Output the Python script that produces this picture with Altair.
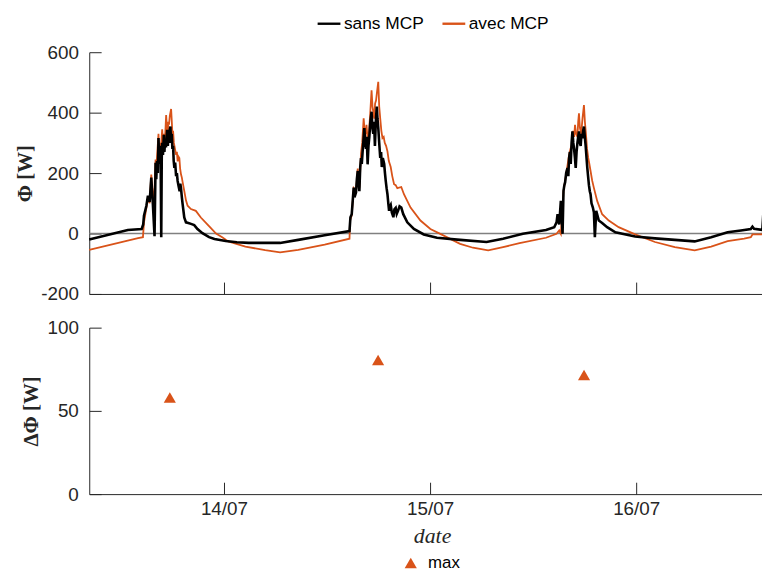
import altair as alt
import pandas as pd

BASE = pd.Timestamp("2019-07-13 00:00:00")

# (hours since 13/07 00:00, flux [W])
sans_pts = [
    (8.31, -20), (12.81, 12), (14.42, 15), (14.6, 30), (14.69, 59), (14.97, 92), (15.15, 125), (15.35, 105),
    (15.54, 185), (15.73, 95), (15.92, -9), (16.04, 234), (16.12, 180), (16.21, 240), (16.3, 200),
    (16.38, 316), (16.47, 230), (16.56, 290), (16.63, 250), (16.70, -12), (16.76, 250), (16.81, 300),
    (16.9, 260), (17.0, 327), (17.07, 270), (17.15, 310), (17.25, 285), (17.39, 343), (17.47, 290),
    (17.54, 330), (17.62, 300), (17.7, 345), (17.77, 354), (17.85, 300), (17.92, 330), (18.0, 280),
    (18.08, 290), (18.15, 240), (18.23, 217), (18.32, 235), (18.43, 190), (18.52, 200), (18.61, 174),
    (18.7, 160), (18.84, 140), (18.92, 165), (19.0, 150), (19.1, 120), (19.19, 97), (19.38, 53),
    (19.58, 37), (19.85, 35), (20.16, 32), (20.54, 28), (20.92, 15), (21.5, 1), (22.27, -12), (22.9, -18),
    (24.2, -25), (25.5, -29), (26.88, -31), (28.5, -31), (30.54, -31), (32.65, -21), (35.73, -6),
    (38.62, 8), (38.73, 54), (38.88, 64), (39.0, 110), (39.11, 152), (39.2, 120), (39.38, 136),
    (39.48, 180), (39.58, 207), (39.68, 170), (39.77, 140), (39.87, 220), (39.96, 250), (40.05, 230),
    (40.15, 272), (40.25, 310), (40.35, 349), (40.45, 300), (40.54, 280), (40.63, 320), (40.73, 229),
    (40.83, 290), (40.93, 320), (41.05, 370), (41.19, 403), (41.29, 350), (41.39, 330), (41.48, 370),
    (41.58, 290), (41.7, 380), (41.8, 420), (41.88, 380), (41.97, 350), (42.08, 300), (42.2, 250),
    (42.3, 270), (42.38, 220), (42.5, 250), (42.66, 230), (42.75, 200), (42.84, 174), (42.94, 150),
    (43.04, 130), (43.14, 100), (43.23, 75), (43.33, 90), (43.42, 95), (43.55, 70), (43.73, 54),
    (43.85, 80), (44.0, 85), (44.12, 65), (44.27, 75), (44.45, 90), (44.65, 86), (44.88, 64), (45.35, 37),
    (46.12, 15), (47.27, -3), (48.81, -14), (51.5, -21), (54.58, -28), (56.5, -17), (58.81, -1),
    (61.5, 12), (62.46, 21), (62.73, 37), (62.85, 64), (63.04, 30), (63.23, 108), (63.43, -1),
    (63.54, 141), (63.64, 160), (63.73, 170), (63.85, 200), (64.0, 217), (64.1, 190), (64.19, 250),
    (64.28, 270), (64.38, 230), (64.48, 300), (64.58, 338), (64.68, 300), (64.77, 280), (64.87, 250),
    (64.96, 217), (65.06, 270), (65.16, 300), (65.25, 320), (65.34, 338), (65.44, 300), (65.54, 290),
    (65.63, 330), (65.73, 315), (65.83, 340), (65.92, 354), (66.02, 320), (66.12, 290), (66.22, 250),
    (66.31, 217), (66.4, 190), (66.5, 160), (66.6, 140), (66.69, 130), (66.8, 100), (66.96, 86),
    (67.08, 70), (67.19, -12), (67.35, 75), (67.65, 43), (68.04, 35), (68.62, 21), (69.58, 4),
    (71.88, -10), (74.19, -16), (78.81, -26), (80.73, -12), (82.65, 4), (84.2, 10), (85.35, 15),
    (85.54, 23), (85.73, 16), (86.69, 12), (86.81, 67), (86.88, 70),
]

avec_pts = [
    (8.31, -54), (14.0, -15), (14.57, -12), (14.69, 37), (14.97, 85), (15.15, 120), (15.35, 100),
    (15.54, 195), (15.73, 110), (15.92, 150), (16.04, 245), (16.12, 200), (16.21, 255), (16.38, 330),
    (16.47, 260), (16.56, 300), (16.66, 280), (16.81, 345), (16.9, 300), (17.0, 330), (17.1, 290),
    (17.27, 392), (17.36, 350), (17.46, 330), (17.53, 370), (17.6, 360), (17.7, 390), (17.85, 412),
    (17.93, 370), (18.0, 330), (18.08, 340), (18.17, 300), (18.3, 280), (18.43, 260), (18.52, 270),
    (18.61, 239), (18.7, 255), (18.81, 250), (18.9, 215), (19.0, 196), (19.1, 185), (19.19, 170),
    (19.38, 141), (19.58, 110), (19.77, 92), (20.16, 81), (20.73, 75), (21.31, 53), (22.07, 30),
    (22.62, 14), (23.08, 0), (23.8, -12), (24.5, -26), (26.5, -43), (28.8, -55), (30.54, -62),
    (32.65, -54), (35.73, -37), (38.62, -17), (38.69, 43), (38.88, 60), (39.11, 150), (39.38, 140),
    (39.58, 215), (39.77, 150), (39.96, 265), (40.1, 300), (40.27, 381), (40.38, 340), (40.5, 330),
    (40.6, 360), (40.71, 320), (40.81, 300), (40.92, 350), (41.02, 390), (41.1, 430), (41.19, 474),
    (41.3, 420), (41.4, 400), (41.5, 380), (41.6, 430), (41.71, 440), (41.83, 470), (41.97, 502),
    (42.08, 420), (42.2, 380), (42.33, 340), (42.46, 316), (42.6, 320), (42.73, 300), (42.88, 290),
    (43.04, 272), (43.2, 240), (43.42, 220), (43.6, 190), (43.81, 163), (44.0, 160), (44.19, 150),
    (44.65, 154), (44.96, 130), (45.73, 86), (46.88, 43), (48.04, 15), (49.19, -1), (51.5, -34),
    (53.0, -47), (54.77, -56), (56.5, -45), (58.42, -32), (61.5, -14), (62.73, -1), (63.04, 10),
    (63.23, -1), (63.54, 140), (63.73, 175), (64.0, 225), (64.19, 260), (64.35, 280), (64.5, 294),
    (64.65, 340), (64.78, 320), (64.88, 360), (65.0, 330), (65.16, 320), (65.25, 370), (65.34, 398),
    (65.45, 350), (65.6, 330), (65.75, 380), (65.92, 425), (66.03, 370), (66.15, 330), (66.28, 280),
    (66.42, 250), (66.55, 230), (66.69, 207), (66.88, 175), (67.07, 152), (67.46, 108), (68.04, 64),
    (68.81, 43), (69.96, 21), (71.88, -3), (74.19, -28), (76.5, -45), (78.81, -56), (80.73, -43),
    (82.65, -25), (84.57, -17), (85.35, -12), (85.54, -3), (86.69, -3), (86.81, 10), (86.88, 10),
]

max_h = [17.7, 41.95, 65.93]
max_dw = [58, 80.5, 71.5]

series_names = ["sans MCP", "avec MCP"]
series_colors = ["#000000", "#D95319"]
tick_days = [14, 15, 16]
phi_ticks = [-200, 0, 200, 400, 600]
dphi_ticks = [0, 50, 100]


def to_time(hours):
    return [BASE + pd.Timedelta(hours=h) for h in hours]


df_sans = pd.DataFrame({"t": to_time([p[0] for p in sans_pts]), "w": [p[1] for p in sans_pts],
                        "serie": "sans MCP"})
df_avec = pd.DataFrame({"t": to_time([p[0] for p in avec_pts]), "w": [p[1] for p in avec_pts],
                        "serie": "avec MCP"})
df_max = pd.DataFrame({"t": to_time(max_h), "dw": max_dw, "serie": "max"})
df_zero = pd.DataFrame({"z": [0]})

tick_vals = [alt.DateTime(year=2019, month=7, date=d) for d in tick_days]
x_dom = [alt.DateTime(year=2019, month=7, date=13, hours=8, minutes=19),
         alt.DateTime(year=2019, month=7, date=16, hours=14, minutes=53)]
xscale = alt.Scale(domain=x_dom)
yscale_top = alt.Scale(domain=[-200, 600], nice=False, zero=False)
yscale_bot = alt.Scale(domain=[0, 100], nice=False)

W = 681
AX = "#262626"
LF = "Liberation Sans"
SF = "Liberation Serif"
TICK = 12
LFS = 19


def x_tick_axis():
    return alt.Axis(orient="bottom", offset=-TICK, domain=False, ticks=True, tickSize=TICK,
                    tickColor=AX, tickWidth=1, labels=False, title=None, grid=False, values=tick_vals)


def y_tick_axis(vals):
    return alt.Axis(orient="left", offset=-TICK, domain=False, ticks=True, tickSize=TICK,
                    tickColor=AX, tickWidth=1, labels=False, title=None, grid=False, values=vals)


def y_main_axis(vals, title, tx, ty):
    return alt.Axis(orient="left", domain=True, domainColor=AX, domainWidth=1, ticks=False, tickSize=0,
                    labels=True, labelPadding=11, labelFontSize=LFS, labelFont=LF, labelColor=AX,
                    labelExpr="'' + datum.value",
                    values=vals, grid=False, title=title, titleFont=SF, titleFontWeight="bold",
                    titleFontSize=21, titleColor=AX, titleX=tx, titleY=ty, titleAngle=270,
                    titleAlign="center", titleBaseline="middle")


color_top = alt.Color(
    "serie:N",
    scale=alt.Scale(domain=series_names, range=series_colors),
    legend=alt.Legend(orient="none", legendX=229, legendY=-42, direction="horizontal", title=None,
                      symbolType="stroke", symbolSize=529, symbolStrokeWidth=2.4, labelFontSize=17.5,
                      labelFont=LF, labelColor="#000000", labelOffset=2, columnPadding=13, padding=0),
)

zero = alt.Chart(df_zero).mark_rule(color="#808080", strokeWidth=1.4).encode(
    y=alt.Y("z:Q", scale=yscale_top, axis=None)
)

avec = alt.Chart(df_avec).mark_line(strokeWidth=1.8, interpolate="linear").encode(
    x=alt.X("t:T", scale=xscale, axis=x_tick_axis()),
    y=alt.Y("w:Q", scale=yscale_top, axis=y_tick_axis(phi_ticks)),
    color=color_top,
)

sans = alt.Chart(df_sans).mark_line(strokeWidth=2.6, interpolate="linear").encode(
    x=alt.X("t:T", scale=xscale,
            axis=alt.Axis(orient="bottom", domain=True, domainColor=AX, domainWidth=1, ticks=False,
                          tickSize=0, labels=False, title=None, grid=False, values=tick_vals)),
    y=alt.Y("w:Q", scale=yscale_top, axis=y_main_axis(phi_ticks, "Φ [W]", -64, 122)),
    color=color_top,
)

top = alt.layer(zero, avec, sans).resolve_axis(x="independent", y="independent").properties(
    width=W, height=244)

pts = alt.Chart(df_max).mark_point(shape="triangle-up", filled=True, size=150, opacity=1).encode(
    x=alt.X("t:T", scale=xscale,
            axis=alt.Axis(orient="bottom", domain=True, domainColor=AX, domainWidth=1, ticks=False,
                          tickSize=0, labels=True, labelPadding=6, labelFontSize=LFS, labelFont=LF,
                          labelColor=AX, format="%d/%m", title="date", titleFont=SF,
                          titleFontStyle="italic", titleFontWeight="normal", titleFontSize=22,
                          titleColor=AX, titleX=346, titleY=42, titleAlign="center",
                          titleBaseline="middle", grid=False, values=tick_vals)),
    y=alt.Y("dw:Q", scale=yscale_bot, axis=y_main_axis(dphi_ticks, "ΔΦ [W]", -58, 84)),
    color=alt.Color("serie:N", scale=alt.Scale(domain=["max"], range=["#D95319"]),
                    legend=alt.Legend(orient="none", legendX=316, legendY=229, title=None,
                                      symbolType="triangle-up", symbolSize=150, labelFontSize=17,
                                      labelFont=LF, labelColor="#000000", labelOffset=9, padding=0)),
)

pts_ticks = alt.Chart(df_max).mark_point(opacity=0).encode(
    x=alt.X("t:T", scale=xscale, axis=x_tick_axis()),
    y=alt.Y("dw:Q", scale=yscale_bot, axis=y_tick_axis(dphi_ticks)),
)

bottom = alt.layer(pts, pts_ticks).resolve_axis(x="independent", y="independent").properties(
    width=W, height=168)

chart = (
    alt.vconcat(top, bottom, spacing=34, bounds="flush")
    .resolve_scale(color="independent")
    .properties(padding={"left": 7, "top": 0, "right": -8, "bottom": 0}, background="white")
    .configure_view(stroke=None)
)

chart.save("out.html", embed_options={"renderer": "svg", "actions": False})
